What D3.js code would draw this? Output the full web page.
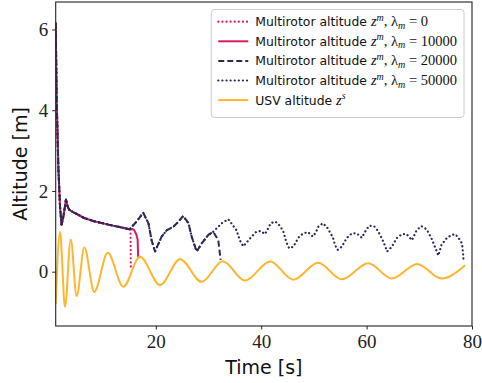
<!DOCTYPE html>
<html><head><meta charset="utf-8">
<script src="https://cdn.jsdelivr.net/npm/d3@7"></script>
<style>body{margin:0;background:#fff}</style>
</head><body>
<svg id="c" width="482" height="383"></svg>
<script>
// ---- data ----
const xTicks = [20, 40, 60, 80];
const yTicks = [0, 2, 4, 6];
const legendLabels = ["0", "10000", "20000", "50000"];
// common approach phase of the multirotor (time s, altitude m)
const commonT = [1.0, 1.19, 1.5, 1.82, 2.12, 2.5, 2.95, 3.3, 3.6, 4.4, 6.4, 8.3, 11.2, 14.0, 15.0];
const commonV = [6.15, 4.25, 2.6, 1.61, 1.16, 1.4, 1.79, 1.6, 1.53, 1.47, 1.33, 1.25, 1.16, 1.08, 1.05];
// lambda = 0 landing
const l0T = [15.2, 15.25];
const l0V = [1.05, 0.05];
// lambda = 10000 tail
const l10T = [15.5, 15.9, 16.3, 16.55, 16.65];
const l10V = [1.06, 1.03, 0.92, 0.8, 0.36];
// lambda = 20000 / 50000 shared part after t=15
const sharedT = [16.35, 17.6, 18.6, 19.2, 19.85, 21.1, 22.1, 23.3, 24.3, 25.2, 26.2, 26.8, 27.75, 28.7, 29.95, 30.9];
const sharedV = [1.24, 1.46, 1.2, 0.78, 0.5, 0.87, 1.03, 1.11, 1.24, 1.38, 1.2, 0.87, 0.5, 0.7, 0.91, 0.99];
// lambda = 20000 landing
const l20T = [31.85, 32.3];
const l20V = [0.78, 0.29];
// lambda = 50000 continuation
const l50T = [32.5, 33.75, 35.3, 35.97, 36.6, 38.2, 39.0, 39.9, 40.7, 41.3, 41.8, 42.7, 43.6, 44.2, 44.8, 45.3, 46.1, 47.2, 48.0, 48.9, 49.8, 50.4, 50.8, 51.7, 52.5, 53.6, 54.0, 54.5, 55.3, 56.2, 57.2, 58.1, 59.1, 59.7, 60.5, 61.4, 62.2, 63.2, 63.9, 64.8, 65.7, 66.7, 67.6, 68.6, 69.5, 70.4, 71.4, 72.3, 73.2, 73.6, 74.2, 75.2, 76.1, 76.8, 77.4, 78.1, 78.3, 78.4];
const l50V = [1.2, 1.3, 1.03, 0.77, 0.63, 0.87, 0.98, 1.01, 0.93, 1.07, 1.2, 1.24, 1.13, 0.99, 0.72, 0.58, 0.62, 0.87, 0.95, 0.98, 0.87, 0.98, 1.11, 1.2, 1.1, 0.85, 0.66, 0.54, 0.62, 0.83, 0.95, 0.95, 0.84, 0.99, 1.14, 1.13, 1.0, 0.74, 0.5, 0.62, 0.83, 0.93, 0.93, 0.78, 1.03, 1.13, 1.05, 0.83, 0.54, 0.4, 0.66, 0.83, 0.91, 0.93, 0.85, 0.7, 0.46, 0.26];
// USV heave extrema (time s, altitude m)
const usvT = [1.0, 1.82, 2.76, 3.85, 4.98, 6.43, 8.32, 10.87, 13.83, 17.0, 20.8, 24.6, 28.7, 32.7, 36.9, 41.7, 46.1, 50.8, 55.3, 60.3, 64.8, 69.6, 74.2, 78.7];
const usvV = [-0.8, 0.99, -0.87, 0.8, -0.6, 0.6, -0.5, 0.47, -0.37, 0.37, -0.33, 0.31, -0.25, 0.26, -0.22, 0.25, -0.2, 0.22, -0.19, 0.21, -0.17, 0.19, -0.17, 0.16];

const zip = (T, V) => T.map((t, i) => [t, V[i]]);
const common = zip(commonT, commonV);
const s0 = common.concat(zip(l0T, l0V));
const s10 = common.concat(zip(l10T, l10V));
const shared = common.concat(zip(sharedT, sharedV));
const s20 = shared.concat(zip(l20T, l20V));
const s50 = shared.concat(zip(l50T, l50V));
const usv = zip(usvT, usvV);

const crimson = "#d81b60", navy = "#2a2a56", amber = "#ffb52e";

const svg = d3.select("#c");
const L = 55.7, R = 472, T = 2, B = 326;
const x = d3.scaleLinear().domain([1, 80]).range([L, R]);
const y = d3.scaleLinear().domain([-1.345, 6.68]).range([B, T]);

svg.append("clipPath").attr("id", "pc").append("rect")
  .attr("x", L).attr("y", T).attr("width", R - L).attr("height", B - T);
const plot = svg.append("g").attr("clip-path", "url(#pc)");

const line = d3.line().x(d => x(d[0])).y(d => y(d[1]));
const smooth = d3.line().x(d => x(d[0])).y(d => y(d[1])).curve(d3.curveMonotoneX);

const series = [
  {data: s0, color: crimson, dash: "0.1,4", cap: "round", w: 2.2, gen: line, label: legendLabels[0]},
  {data: s10, color: crimson, dash: null, cap: "butt", w: 2, gen: line, label: legendLabels[1]},
  {data: s20, color: navy, dash: "6,3", cap: "butt", w: 2, gen: line, label: legendLabels[2]},
  {data: s50, color: navy, dash: "0.1,4", cap: "round", w: 2.2, gen: line, label: legendLabels[3]},
  {data: usv, color: amber, dash: null, cap: "butt", w: 2, gen: smooth, label: null}
];
series.forEach(s => {
  plot.append("path").attr("d", s.gen(s.data)).attr("fill", "none")
    .attr("stroke", s.color).attr("stroke-width", s.w)
    .attr("stroke-dasharray", s.dash).attr("stroke-linecap", s.cap)
    .attr("stroke-linejoin", "round");
});

// axes
const serif = "'Liberation Serif', 'DejaVu Serif', serif";
const sans = "'DejaVu Sans', 'Liberation Sans', sans-serif";
const xa = svg.append("g").attr("transform", `translate(0,${B})`)
  .call(d3.axisBottom(x).tickValues(xTicks).tickSize(3.5).tickPadding(5).tickFormat(d3.format("d")));
const ya = svg.append("g").attr("transform", `translate(${L},0)`)
  .call(d3.axisLeft(y).tickValues(yTicks).tickSize(3.5).tickPadding(4).tickFormat(d3.format("d")));
[xa, ya].forEach(a => {
  a.select(".domain").remove();
  a.selectAll("text").attr("font-family", serif).attr("font-size", 19).attr("fill", "#222");
  a.selectAll("line").attr("stroke", "#222").attr("stroke-width", 1);
});
svg.append("rect").attr("x", L).attr("y", T).attr("width", R - L).attr("height", B - T)
  .attr("fill", "none").attr("stroke", "#222").attr("stroke-width", 1.1);

svg.append("text").attr("x", (L + R) / 2).attr("y", 374).attr("text-anchor", "middle")
  .attr("font-family", sans).attr("font-size", 19).attr("fill", "#111").text("Time [s]");
svg.append("text").attr("transform", `translate(27,${(T + B) / 2}) rotate(-90)`)
  .attr("text-anchor", "middle").attr("font-family", sans).attr("font-size", 19)
  .attr("fill", "#111").text("Altitude [m]");

// legend
const lg = svg.append("g");
const box = lg.append("rect");
const texts = [];
series.forEach((s, i) => {
  const yy = 21.7 + i * 19.6;
  const t = lg.append("text").attr("y", yy + 4.5).attr("font-size", 12.4)
    .attr("font-family", sans).attr("fill", "#111");
  if (s.label !== null) {
    t.append("tspan").text("Multirotor altitude ");
    t.append("tspan").attr("font-family", serif).attr("font-style", "italic").attr("font-size", 14.5).text("z");
    t.append("tspan").attr("font-family", serif).attr("font-style", "italic").attr("font-size", 10).attr("dy", -5.5).text("m");
    t.append("tspan").attr("font-family", serif).attr("font-size", 14.5).attr("dy", 5.5).text(", λ");
    t.append("tspan").attr("font-family", serif).attr("font-style", "italic").attr("font-size", 10).attr("dy", 2.5).text("m");
    t.append("tspan").attr("font-family", serif).attr("font-size", 14.5).attr("dy", -2.5).text(" = " + s.label);
  } else {
    t.append("tspan").text("USV altitude ");
    t.append("tspan").attr("font-family", serif).attr("font-style", "italic").attr("font-size", 14.5).text("z");
    t.append("tspan").attr("font-family", serif).attr("font-style", "italic").attr("font-size", 10).attr("dy", -5.5).text("s");
  }
  texts.push({t, yy, s});
});
const maxW = d3.max(texts, d => d.t.node().getComputedTextLength());
const tx = 457 - maxW;
texts.forEach(({t, yy, s}) => {
  t.attr("x", tx);
  lg.append("line").attr("x1", tx - 37).attr("x2", tx - 7).attr("y1", yy).attr("y2", yy)
    .attr("stroke", s.color).attr("stroke-width", s.w)
    .attr("stroke-dasharray", s.dash).attr("stroke-linecap", s.cap);
});
box.attr("x", tx - 44).attr("y", 9.5).attr("width", 464 - (tx - 44)).attr("height", 108).attr("rx", 3)
  .attr("fill", "#fff").attr("fill-opacity", 0.85).attr("stroke", "#ccc").attr("stroke-width", 1);
</script>
</body></html>
